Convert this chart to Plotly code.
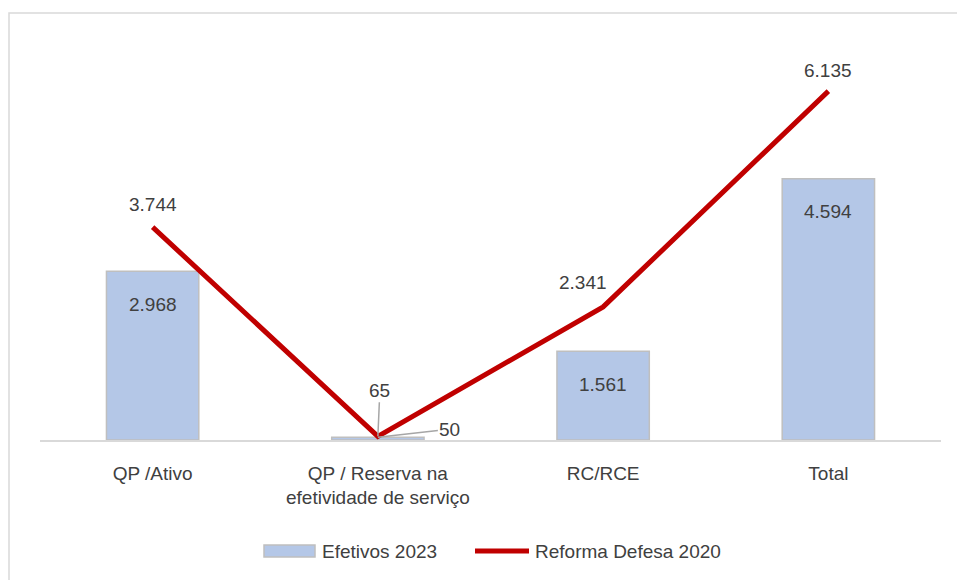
import plotly.graph_objects as go

categories = ["QP /Ativo", "QP / Reserva na<br>efetividade de serviço", "RC/RCE", "Total"]
efetivos_2023 = [2968, 50, 1561, 4594]
reforma_defesa_2020 = [3744, 65, 2341, 6135]

BAR_FILL = "#B4C7E7"
BAR_EDGE = "#BFBFBF"
LINE_RED = "#C00000"
TEXT = "#404040"
FONT = "Liberation Sans, Arial, sans-serif"
FS = 19


def fmt(v):
    return f"{v:,}".replace(",", ".")


fig = go.Figure()
fig.add_trace(go.Bar(
    x=categories, y=efetivos_2023, name="Efetivos 2023", width=0.41,
    marker=dict(color=BAR_FILL, line=dict(color=BAR_EDGE, width=1.5)),
    showlegend=False,
))
fig.add_trace(go.Scatter(
    x=categories, y=reforma_defesa_2020, name="Reforma Defesa 2020",
    mode="lines", line=dict(color=LINE_RED, width=5),
    showlegend=False,
))

ann = []
# bar value labels, inside the top of each bar
for i, (c, v) in enumerate(zip(categories, efetivos_2023)):
    if i == 1:
        ann.append(dict(x=c, y=v, text=fmt(v), showarrow=True, arrowhead=0,
                        arrowwidth=1.5, arrowcolor="#A6A6A6", ax=72, ay=-8,
                        font=dict(size=FS, color=TEXT, family=FONT)))
    else:
        ann.append(dict(x=c, y=v, text=fmt(v), showarrow=False, yshift=-33,
                        font=dict(size=FS, color=TEXT, family=FONT)))
# line value labels, above each point
line_shift = [(0, 23), None, (-20, 24), (0, 21)]
for i, (c, v) in enumerate(zip(categories, reforma_defesa_2020)):
    if i == 1:
        ann.append(dict(x=c, y=v, text=fmt(v), showarrow=True, arrowhead=0,
                        arrowwidth=1.5, arrowcolor="#A6A6A6", ax=2, ay=-46,
                        font=dict(size=FS, color=TEXT, family=FONT)))
    else:
        dx, dy = line_shift[i]
        ann.append(dict(x=c, y=v, text=fmt(v), showarrow=False, xshift=dx, yshift=dy,
                        font=dict(size=FS, color=TEXT, family=FONT)))

# legend drawn below the plot
PW, PH, L, B = 901, 398, 40, 140


def px_x(px):
    return (px - L) / PW


def px_y(py):
    return (440 - py) / PH


shapes = [
    dict(type="rect", xref="paper", yref="paper",
         x0=px_x(9), x1=px_x(960), y0=px_y(590), y1=px_y(13),
         line=dict(color="#D9D9D9", width=1.5), fillcolor="rgba(0,0,0,0)", layer="below"),
    dict(type="rect", xref="paper", yref="paper",
         x0=px_x(264), x1=px_x(315), y0=px_y(557), y1=px_y(545),
         line=dict(color=BAR_EDGE, width=1.5), fillcolor=BAR_FILL),
    dict(type="line", xref="paper", yref="paper",
         x0=px_x(475), x1=px_x(529), y0=px_y(551), y1=px_y(551),
         line=dict(color=LINE_RED, width=5)),
]
ann.append(dict(xref="paper", yref="paper", x=px_x(320), y=px_y(551), text="Efetivos 2023",
                xanchor="left", yanchor="middle", showarrow=False,
                font=dict(size=FS, color=TEXT, family=FONT)))
ann.append(dict(xref="paper", yref="paper", x=px_x(533), y=px_y(551), text="Reforma Defesa 2020",
                xanchor="left", yanchor="middle", showarrow=False,
                font=dict(size=FS, color=TEXT, family=FONT)))

fig.update_layout(
    width=957, height=580,
    margin=dict(l=L, r=957 - L - PW, t=42, b=B),
    plot_bgcolor="white", paper_bgcolor="white",
    font=dict(family=FONT, size=FS, color=TEXT),
    annotations=ann, shapes=shapes, showlegend=False,
    xaxis=dict(showline=True, linecolor="#D9D9D9", linewidth=1.5, showgrid=False,
               ticks="", ticklabelstandoff=15, tickfont=dict(size=FS, color=TEXT)),
    yaxis=dict(range=[0, 7000], visible=False, showgrid=False, zeroline=False),
)

fig.write_html("out.html")
